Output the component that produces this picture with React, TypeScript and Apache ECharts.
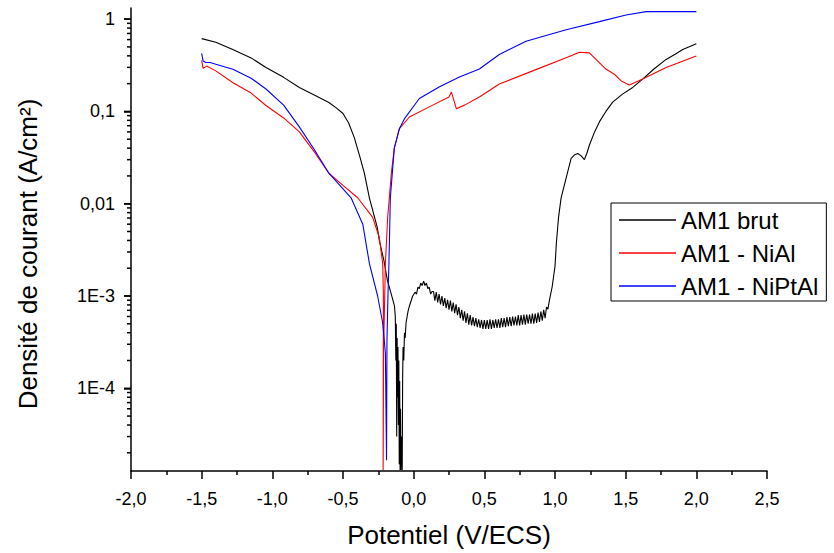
import React, { useEffect, useRef } from "react";
import * as echarts from "echarts";

// Potential (V/ECS) and current density (A/cm²)
const brutV = [
  -1.5, -1.4, -1.28, -1.15, -1.045, -0.92, -0.809, -0.7, -0.6, -0.55, -0.5, -0.46, -0.42, -0.38, -0.349, -0.313, -0.257, -0.243, -0.21, -0.186, -0.16,
  -0.136, -0.13, -0.126, -0.123, -0.12, -0.117, -0.114, -0.111, -0.108, -0.105, -0.102, -0.099, -0.096, -0.093, -0.09, -0.087, -0.084, -0.081, -0.078, -0.075,
  -0.07, -0.065, -0.06, -0.054, -0.04, -0.03, -0.007,
  0.01, 0.02, 0.03, 0.04, 0.05, 0.06, 0.071, 0.08, 0.09, 0.1, 0.11, 0.12, 0.13,
  0.14, 0.15, 0.16, 0.17, 0.18, 0.19, 0.2, 0.21, 0.22, 0.23, 0.24, 0.25, 0.26, 0.27, 0.28, 0.29, 0.3, 0.31, 0.32, 0.33, 0.34, 0.35, 0.36, 0.37, 0.38, 0.39,
  0.4, 0.41, 0.42, 0.43, 0.44, 0.45, 0.46, 0.47, 0.48, 0.49, 0.5, 0.51, 0.52, 0.53, 0.54, 0.55, 0.56, 0.57, 0.58, 0.59, 0.6, 0.61, 0.62, 0.63, 0.64, 0.65,
  0.66, 0.67, 0.68, 0.69, 0.7, 0.71, 0.72, 0.73, 0.74, 0.75, 0.76, 0.77, 0.78, 0.79, 0.8, 0.81, 0.82, 0.83, 0.84, 0.85, 0.86, 0.87, 0.88, 0.89, 0.9, 0.91,
  0.92, 0.93, 0.94, 0.95, 0.96, 0.98,
  1.0, 1.01, 1.025, 1.043, 1.079, 1.114, 1.14, 1.161, 1.185, 1.208, 1.225, 1.243, 1.28, 1.314, 1.36, 1.408, 1.48, 1.55, 1.62, 1.7, 1.786, 1.85, 1.904, 2.0,
];
const brutI = [
  0.615, 0.562, 0.469, 0.38, 0.299, 0.234, 0.182, 0.15, 0.125, 0.11, 0.095, 0.075, 0.052, 0.032, 0.0214, 0.0115, 0.0055, 0.004, 0.0024, 0.00148, 0.00107,
  7.8e-4, 6.0e-4, 2.0e-4, 5.0e-4, 3.0e-5, 3.5e-4, 8.0e-5, 2.8e-4, 4.0e-5, 2.0e-4, 1.5e-5, 1.2e-4, 1.3e-5, 6e-5, 1.3e-5, 1.3e-5, 3.0e-5, 1.3e-5, 1.3e-4, 2.8e-4,
  2.0e-4, 4.0e-4, 3.5e-4, 5.1e-4, 6.8e-4, 7.8e-4, 1.0e-3,
  1.1e-3, 1.05e-3, 1.25e-3, 1.2e-3, 1.38e-3, 1.3e-3, 1.45e-3, 1.3e-3, 1.38e-3, 1.2e-3, 1.25e-3, 1.05e-3, 1.12e-3,
  1.12e-3, 8.9e-4, 1.1e-3, 8.5e-4, 1.05e-3, 8.1e-4, 1.0e-3, 7.8e-4, 9.5e-4, 7.4e-4, 9.1e-4, 7.1e-4, 8.9e-4, 6.8e-4, 8.5e-4, 6.5e-4, 8.1e-4, 6.2e-4, 7.6e-4, 5.75e-4, 7.1e-4, 5.4e-4, 6.8e-4, 5.1e-4, 6.5e-4, 4.9e-4,
  6.2e-4, 4.8e-4, 5.9e-4, 4.7e-4, 5.75e-4, 4.6e-4, 5.6e-4, 4.5e-4, 5.5e-4, 4.4e-4, 5.5e-4, 4.4e-4, 5.5e-4, 4.4e-4, 5.6e-4, 4.4e-4, 5.5e-4, 4.5e-4, 5.6e-4, 4.5e-4, 5.6e-4, 4.5e-4, 5.75e-4, 4.6e-4, 5.75e-4, 4.6e-4,
  5.9e-4, 4.7e-4, 5.9e-4, 4.7e-4, 6.0e-4, 4.8e-4, 6.0e-4, 4.8e-4, 6.2e-4, 4.8e-4, 6.2e-4, 4.9e-4, 6.3e-4, 4.9e-4, 6.3e-4, 5.0e-4, 6.3e-4, 5.0e-4, 6.45e-4, 5.0e-4, 6.45e-4, 5.1e-4, 6.6e-4, 5.25e-4, 6.8e-4, 5.4e-4,
  7.1e-4, 5.75e-4, 7.6e-4, 7.2e-4, 8.9e-4, 1.26e-3,
  2.1e-3, 3.8e-3, 7.1e-3, 0.0115, 0.019, 0.031, 0.034, 0.035, 0.033, 0.03, 0.035, 0.043, 0.06, 0.077, 0.1, 0.126, 0.155, 0.182, 0.224, 0.288, 0.366, 0.417, 0.468, 0.54,
];

const niAlV = [
  -1.5, -1.49, -1.475, -1.465, -1.4, -1.281, -1.15, -1.045, -0.92, -0.809, -0.7, -0.6, -0.5, -0.396, -0.29, -0.243, -0.219, -0.214, -0.215, -0.216,
  -0.213, -0.2, -0.184, -0.172, -0.158, -0.137, -0.101, -0.03, 0.11, 0.25, 0.267, 0.302, 0.36, 0.465, 0.606,
  0.842, 1.079, 1.173, 1.243, 1.29, 1.362, 1.42, 1.468, 1.527, 1.62, 1.786, 2.0,
];
const niAlI = [
  0.357, 0.293, 0.302, 0.31, 0.275, 0.206, 0.158, 0.116, 0.085, 0.06, 0.036, 0.0214, 0.0158, 0.0116, 7.1e-3, 4.3e-3, 2.24e-3, 1.0e-3, 2.5e-4, 1.3e-5,
  2.5e-4, 2.24e-3, 7.1e-3, 0.0116, 0.0214, 0.04, 0.065, 0.087, 0.112, 0.143, 0.162, 0.107, 0.117, 0.143, 0.198,
  0.275, 0.382, 0.438, 0.431, 0.366, 0.286, 0.253, 0.214, 0.193, 0.224, 0.299, 0.398,
];

const niPtAlV = [
  -1.5, -1.49, -1.47, -1.44, -1.4, -1.279, -1.15, -1.045, -0.92, -0.809, -0.7, -0.6, -0.443, -0.36, -0.313, -0.255, -0.219, -0.2, -0.192,
  -0.189, -0.182, -0.175, -0.165, -0.137, -0.101, -0.066, 0.04, 0.18, 0.32, 0.465, 0.606, 0.795, 1.079, 1.314, 1.503, 1.645, 2.0,
];
const niPtAlI = [
  0.425, 0.352, 0.339, 0.339, 0.324, 0.286, 0.229, 0.175, 0.117, 0.068, 0.038, 0.0214, 0.0116, 6.0e-3, 2.24e-3, 1.0e-3, 5.1e-4, 2.4e-4, 1.66e-5,
  3.2e-4, 1.0e-3, 2.24e-3, 0.0116, 0.04, 0.065, 0.083, 0.138, 0.184, 0.234, 0.288, 0.414, 0.575, 0.767, 0.94, 1.11, 1.205, 1.205,
];

const seriesNames = ["AM1 brut", "AM1 - NiAl", "AM1 - NiPtAl"];
const yMajorTicks = [1e-4, 1e-3, 1e-2, 0.1, 1];
const yMinorTicks = [
  2e-5, 3e-5, 4e-5, 5e-5, 6e-5, 7e-5, 8e-5, 9e-5,
  2e-4, 3e-4, 4e-4, 5e-4, 6e-4, 7e-4, 8e-4, 9e-4,
  2e-3, 3e-3, 4e-3, 5e-3, 6e-3, 7e-3, 8e-3, 9e-3,
  0.02, 0.03, 0.04, 0.05, 0.06, 0.07, 0.08, 0.09,
  0.2, 0.3, 0.4, 0.5, 0.6, 0.7, 0.8, 0.9,
];
const yLabelText: Record<string, string> = { "0": "1", "-1": "0,1", "-2": "0,01", "-3": "1E-3", "-4": "1E-4" };
const xMin = -2;
const xMax = 2.5;

const pairs = (xs: number[], ys: number[]) => xs.map((x, i) => [x, ys[i]]);

export default function App() {
  const ref = useRef<HTMLDivElement>(null);
  useEffect(() => {
    if (!ref.current) return;
    const chart = echarts.init(ref.current, null, { renderer: "svg" });
    const font = "'Liberation Sans', Arial, sans-serif";
    const yMin = 1.27e-5;
    const yMax = 1.32;
    chart.setOption({
      animation: false,
      backgroundColor: "#fff",
      textStyle: { fontFamily: font, color: "#000" },
      grid: { left: 131, right: 67, top: 8, bottom: 77, containLabel: false },
      legend: {
        orient: "vertical",
        left: 611,
        top: 203,
        data: seriesNames,
        icon: "rect",
        borderColor: "#000",
        borderWidth: 1,
        padding: [5, 8, 3, 8],
        itemGap: 9,
        itemWidth: 57,
        itemHeight: 1.3,
        textStyle: { fontSize: 24, lineHeight: 22, color: "#000", fontFamily: font },
      },
      xAxis: {
        type: "value",
        min: xMin,
        max: xMax,
        interval: 0.5,
        name: "Potentiel (V/ECS)",
        nameLocation: "middle",
        nameGap: 51,
        nameTextStyle: { fontSize: 26, color: "#000", fontFamily: font },
        axisLine: { show: true, onZero: false, lineStyle: { color: "#000", width: 1.5 } },
        axisTick: { show: true, inside: false, length: 8, lineStyle: { color: "#000", width: 1.5 } },
        minorTick: { show: true, splitNumber: 2, length: 4, lineStyle: { color: "#000", width: 1.5 } },
        splitLine: { show: false },
        axisLabel: {
          fontSize: 18,
          color: "#000",
          margin: 19,
          formatter: (v: number) => v.toFixed(1).replace(".", ","),
        },
      },
      yAxis: {
        type: "log",
        min: yMin,
        max: yMax,
        name: "Densité de courant (A/cm²)",
        nameLocation: "middle",
        nameGap: 90,
        nameTextStyle: { fontSize: 26, color: "#000", fontFamily: font, padding: [0, 29, 0, 0] },
        axisLine: { show: true, onZero: false, lineStyle: { color: "#000", width: 1.5 } },
        axisTick: { show: true, length: 7, customValues: yMajorTicks, lineStyle: { color: "#000", width: 1.5 } },
        splitLine: { show: false },
        axisLabel: {
          fontSize: 18,
          color: "#000",
          margin: 16,
          customValues: yMajorTicks,
          formatter: (v: number) => yLabelText[String(Math.round(Math.log10(v)))] ?? "",
        },
      },
      series: [
        {
          name: seriesNames[0],
          type: "line",
          symbol: "none",
          color: "#000000",
          lineStyle: { color: "#000000", width: 1.1 },
          data: pairs(brutV, brutI),
        },
        {
          name: seriesNames[1],
          type: "line",
          symbol: "none",
          color: "#ff0000",
          lineStyle: { color: "#ff0000", width: 1.1 },
          data: pairs(niAlV, niAlI),
        },
        {
          name: seriesNames[2],
          type: "line",
          symbol: "none",
          color: "#0000ff",
          lineStyle: { color: "#0000ff", width: 1.1 },
          data: pairs(niPtAlV, niPtAlI),
        },
      ],
    });

    // y-axis tick marks, positioned through the chart's own log scale
    const tickDefs: [number, number][] = [
      ...yMajorTicks.map((v) => [v, 7] as [number, number]),
      ...yMinorTicks.map((v) => [v, 4] as [number, number]),
    ];
    const tickEls = tickDefs.map(([v, len]) => {
      const p = chart.convertToPixel({ xAxisIndex: 0, yAxisIndex: 0 }, [xMin, v]) as number[];
      return {
        type: "line",
        z: 100,
        silent: true,
        shape: { x1: p[0] - len, y1: p[1], x2: p[0], y2: p[1] },
        style: { stroke: "#000000", lineWidth: 1.5 },
      };
    });
    chart.setOption({ graphic: tickEls });

    return () => chart.dispose();
  }, []);
  return <div ref={ref} style={{ position: "absolute", left: 0, top: 0, width: 834, height: 553, background: "#fff" }} />;
}
